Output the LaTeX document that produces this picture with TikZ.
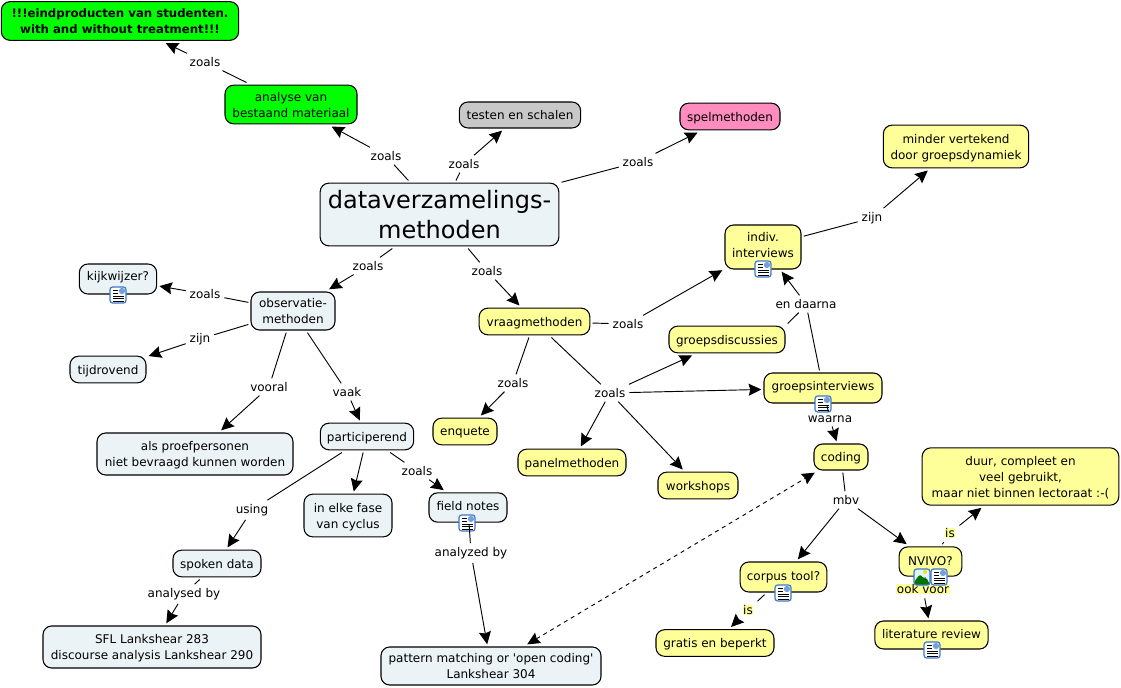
\documentclass[tikz,border=0pt]{standalone}
\usepackage{fontspec}
\setmainfont{DejaVu Sans}
\usetikzlibrary{arrows.meta}
\definecolor{cblue}{HTML}{EBF3F6}
\definecolor{cyellow}{HTML}{FFFF99}
\definecolor{cgreen}{HTML}{00FF00}
\definecolor{cgray}{HTML}{C8C8C8}
\definecolor{cpink}{HTML}{FF8CBE}
\definecolor{iconblue}{HTML}{3C78C8}
\tikzset{
  concept/.style={rectangle, draw=black, line width=0.8pt, rounded corners=6.5pt, align=center, inner sep=0pt, outer sep=2pt,
    text depth=0pt, font=\fontsize{9}{12}\selectfont},
  linker/.style={rectangle, inner sep=1.5pt, outer sep=1.5pt, font=\fontsize{9}{11}\selectfont},
  link/.style={line width=0.7pt},
  arrowlink/.style={line width=0.7pt, -{Stealth[length=9.5pt,width=9pt,inset=1.2pt]}},
  docicon/.style={rectangle, draw=iconblue, line width=0.9pt, rounded corners=2pt, fill=white, minimum size=12pt, inner sep=0pt,
    path picture={
      \draw[black, line width=0.6pt, shift={(path picture bounding box.center)}]
        (-5,-5) -- (0,-5) (-5,-2) -- (0,-2) (-5,1) -- (6,1) (-5,3.5) -- (6,3.5) (-5,6) -- (6,6);
      \fill[iconblue!70, shift={(path picture bounding box.center)}] (1,-7) rectangle (7,-1);
    }},
  imgicon/.style={rectangle, draw=iconblue, line width=0.9pt, rounded corners=2pt, fill=cyan!12, minimum size=12pt, inner sep=0pt,
    path picture={
      \fill[green!45!black, shift={(path picture bounding box.center)}] (-8,8) -- (-8,5) -- (-2,-3) -- (2,2) -- (4,0) -- (8,8) -- cycle;
      \fill[yellow!80!orange, shift={(path picture bounding box.center)}] (3,-5) circle (2);
    }}
}
\begin{document}
\begin{tikzpicture}[x=0.75pt, y=-0.75pt]
  \useasboundingbox (0,0) rectangle (1121,688);
  % concepts
  \node[concept, fill=cblue, minimum width=179pt, minimum height=47pt, font=\fontsize{18}{22.5}\selectfont] (nMain) at (439.5,214.5) {dataverzamelings-\\methoden};
  \node[concept, fill=cgreen, minimum width=178pt, minimum height=29pt, font=\fontsize{8.8}{11.5}\selectfont\bfseries] (nEind) at (120,21) {!!!eindproducten van studenten.\\with and without treatment!!!};
  \node[concept, fill=cgreen, minimum width=99pt, minimum height=29pt] (nAnalyse) at (291,104.5) {analyse van\\bestaand materiaal};
  \node[concept, fill=cgray, minimum width=91pt, minimum height=19.5pt] (nTesten) at (520,115) {testen en schalen};
  \node[concept, fill=cpink, minimum width=75pt, minimum height=20pt] (nSpel) at (730,116.5) {spelmethoden};
  \node[concept, fill=cyellow, minimum width=109pt, minimum height=32pt] (nMinder) at (956,146.5) {minder vertekend\\door groepsdynamiek};
  \node[concept, fill=cyellow, minimum width=57pt, minimum height=33pt, text depth=3pt] (nIndiv) at (763,247) {indiv.\\interviews};
  \node[concept, fill=cblue, minimum width=58pt, minimum height=22.5pt, text depth=5pt] (nKijk) at (118,279) {kijkwijzer?};
  \node[concept, fill=cblue, minimum width=63pt, minimum height=28.5pt] (nObs) at (293,311) {observatie-\\methoden};
  \node[concept, fill=cyellow, minimum width=83pt, minimum height=20pt] (nVraag) at (534.5,321.5) {vraagmethoden};
  \node[concept, fill=cyellow, minimum width=87pt, minimum height=20pt] (nDisc) at (727,339.5) {groepsdiscussies};
  \node[concept, fill=cblue, minimum width=57pt, minimum height=20pt] (nTijd) at (108,369.5) {tijdrovend};
  \node[concept, fill=cyellow, minimum width=88.5pt, minimum height=22.5pt, text depth=3.5pt] (nGroep) at (823,388) {groepsinterviews};
  \node[concept, fill=cblue, minimum width=70pt, minimum height=20pt] (nPart) at (367,436.5) {participerend};
  \node[concept, fill=cblue, minimum width=147pt, minimum height=31.5pt] (nProef) at (195,454) {als proefpersonen\\niet bevraagd kunnen worden};
  \node[concept, fill=cyellow, minimum width=48pt, minimum height=20pt] (nEnquete) at (465,431.5) {enquete};
  \node[concept, fill=cyellow, minimum width=40.5pt, minimum height=19.5pt] (nCoding) at (841,457) {coding};
  \node[concept, fill=cyellow, minimum width=81pt, minimum height=20pt] (nPanel) at (572,462.5) {panelmethoden};
  \node[concept, fill=cyellow, minimum width=60pt, minimum height=20pt] (nWork) at (698,485.5) {workshops};
  \node[concept, fill=cyellow, minimum width=147.5pt, minimum height=43pt] (nDuur) at (1020.5,476.5) {duur, compleet en\\veel gebruikt,\\maar niet binnen lectoraat :-(};
  \node[concept, fill=cblue, minimum width=58.5pt, minimum height=22pt, text depth=3pt] (nField) at (468,507.5) {field notes};
  \node[concept, fill=cblue, minimum width=66pt, minimum height=32pt] (nFase) at (348,515.5) {in elke fase\\van cyclus};
  \node[concept, fill=cblue, minimum width=66pt, minimum height=20pt] (nSpoken) at (217,563.5) {spoken data};
  \node[concept, fill=cyellow, minimum width=65pt, minimum height=22.5pt, text depth=1pt] (nCorpus) at (783.5,577) {corpus tool?};
  \node[concept, fill=cyellow, minimum width=47pt, minimum height=22pt] (nNvivo) at (930.5,561.5) {NVIVO?};
  \node[concept, fill=cyellow, minimum width=88.5pt, minimum height=20pt] (nGratis) at (715,643) {gratis en beperkt};
  \node[concept, fill=cyellow, minimum width=85pt, minimum height=21pt, text depth=1pt] (nLit) at (931.5,635) {literature review};
  \node[concept, fill=cblue, minimum width=163.5pt, minimum height=31.5pt] (nSfl) at (152,647) {SFL Lankshear 283\\discourse analysis Lankshear 290};
  \node[concept, fill=cblue, minimum width=165pt, minimum height=28.5pt] (nPattern) at (491,666) {pattern matching or \textquotesingle open coding\textquotesingle\\Lankshear 304};
  % linking phrases
  \node[linker] (lEind) at (205,62) {zoals};
  \node[linker] (lAnalyse) at (386,156) {zoals};
  \node[linker] (lTesten) at (464,164) {zoals};
  \node[linker] (lSpel) at (638,162) {zoals};
  \node[linker] (lMinder) at (872,218) {zijn};
  \node[linker] (lObs) at (368,266) {zoals};
  \node[linker] (lVraag) at (487,271) {zoals};
  \node[linker] (lKijk) at (205,294) {zoals};
  \node[linker] (lTijd) at (200,339) {zijn};
  \node[linker] (lIndiv) at (628,324) {zoals};
  \node[linker] (lDaarna) at (806,304) {en daarna};
  \node[linker] (lEnquete) at (513,383) {zoals};
  \node[linker] (lVooral) at (269,387) {vooral};
  \node[linker] (lVaak) at (347,392) {vaak};
  \node[linker] (lGroep) at (610,393) {zoals};
  \node[linker] (lWaarna) at (830,419) {waarna};
  \node[linker] (lField) at (417,471) {zoals};
  \node[linker] (lMbv) at (846,500) {mbv};
  \node[linker] (lUsing) at (252,510) {using};
  \node[linker] (lAnalyzed) at (471,553) {analyzed by};
  \node[linker] (lAnalysed) at (184,594) {analysed by};
  \node[linker, fill=cyellow, inner sep=0.5pt, outer sep=3pt] (lGratis) at (748,610) {is};
  \node[linker, fill=cyellow, inner sep=0.5pt, outer sep=3pt] (lDuur) at (950,533) {is};
  \node[linker, fill=cyellow, inner sep=0.5pt, outer sep=3pt] (lOok) at (923,589) {ook voor};
  % icons
  \node[docicon] (iIndiv) at (763,269) {};
  \node[docicon] (iKijk) at (118,295) {};
  \node[docicon] (iGroep) at (823,404) {};
  \node[docicon] (iField) at (467,523) {};
  \node[docicon] (iCorpus) at (783,593) {};
  \node[imgicon] (iNvivoA) at (922,577) {};
  \node[docicon] (iNvivoB) at (939,577) {};
  \node[docicon] (iLit) at (932,650) {};
  % connectors
  \draw[link] (nAnalyse) -- (lEind);
  \draw[arrowlink] (lEind) -- (nEind);
  \draw[link] (nMain) -- (lAnalyse);
  \draw[arrowlink] (lAnalyse) -- (nAnalyse);
  \draw[link] (nMain) -- (lTesten);
  \draw[arrowlink] (lTesten) -- (nTesten);
  \draw[link] (nMain) -- (lSpel);
  \draw[arrowlink] (lSpel) -- (nSpel);
  \draw[link] (nIndiv) -- (lMinder);
  \draw[arrowlink] (lMinder) -- (nMinder);
  \draw[link] (nMain) -- (lObs);
  \draw[arrowlink] (lObs) -- (nObs);
  \draw[link] (nMain) -- (lVraag);
  \draw[arrowlink] (lVraag) -- (nVraag);
  \draw[link] (nObs) -- (lKijk);
  \draw[arrowlink] (lKijk) -- (nKijk);
  \draw[link] (nObs) -- (lTijd);
  \draw[arrowlink] (lTijd) -- (nTijd);
  \draw[link] (nObs) -- (lVooral);
  \draw[arrowlink] (lVooral) -- (nProef);
  \draw[link] (nObs) -- (lVaak);
  \draw[arrowlink] (lVaak) -- (nPart);
  \draw[link] (nVraag) -- (lIndiv);
  \draw[arrowlink] (lIndiv) -- (nIndiv);
  \draw[link] (nVraag) -- (lEnquete);
  \draw[arrowlink] (lEnquete) -- (nEnquete);
  \draw[link] (nVraag) -- (lGroep);
  \draw[arrowlink] (lGroep) -- (nDisc);
  \draw[arrowlink] (lGroep) -- (nGroep);
  \draw[arrowlink] (lGroep) -- (nPanel);
  \draw[arrowlink] (lGroep) -- (nWork);
  \draw[link] (nDisc.north east) -- (lDaarna.-130);
  \draw[link] (nGroep) -- (lDaarna);
  \draw[arrowlink] (lDaarna) -- (nIndiv);
  \draw[link] (nGroep) -- (lWaarna);
  \draw[arrowlink] (lWaarna) -- (nCoding);
  \draw[link] (nCoding) -- (lMbv);
  \draw[arrowlink] (lMbv) -- (nCorpus);
  \draw[arrowlink] (lMbv) -- (nNvivo);
  \draw[link] (nNvivo) -- (lDuur);
  \draw[arrowlink] (lDuur) -- (nDuur);
  \draw[link] (nNvivo) -- (lOok);
  \draw[arrowlink] (lOok) -- (nLit);
  \draw[link] (nCorpus) -- (lGratis);
  \draw[arrowlink] (lGratis) -- (nGratis);
  \draw[link] (nPart) -- (lField);
  \draw[arrowlink] (lField) -- (nField);
  \draw[link] (nPart) -- (lUsing);
  \draw[arrowlink] (lUsing) -- (nSpoken);
  \draw[arrowlink] (nPart) -- (nFase);
  \draw[link] (nField) -- (lAnalyzed);
  \draw[arrowlink] (lAnalyzed) -- (nPattern);
  \draw[link] (nSpoken) -- (lAnalysed);
  \draw[arrowlink] (lAnalysed) -- (nSfl);
  \draw[line width=0.7pt, dashed, {Stealth[length=9.5pt,width=9pt,inset=1.2pt]}-{Stealth[length=9.5pt,width=9pt,inset=1.2pt]}] (nPattern) -- (nCoding);
\end{tikzpicture}
\end{document}
